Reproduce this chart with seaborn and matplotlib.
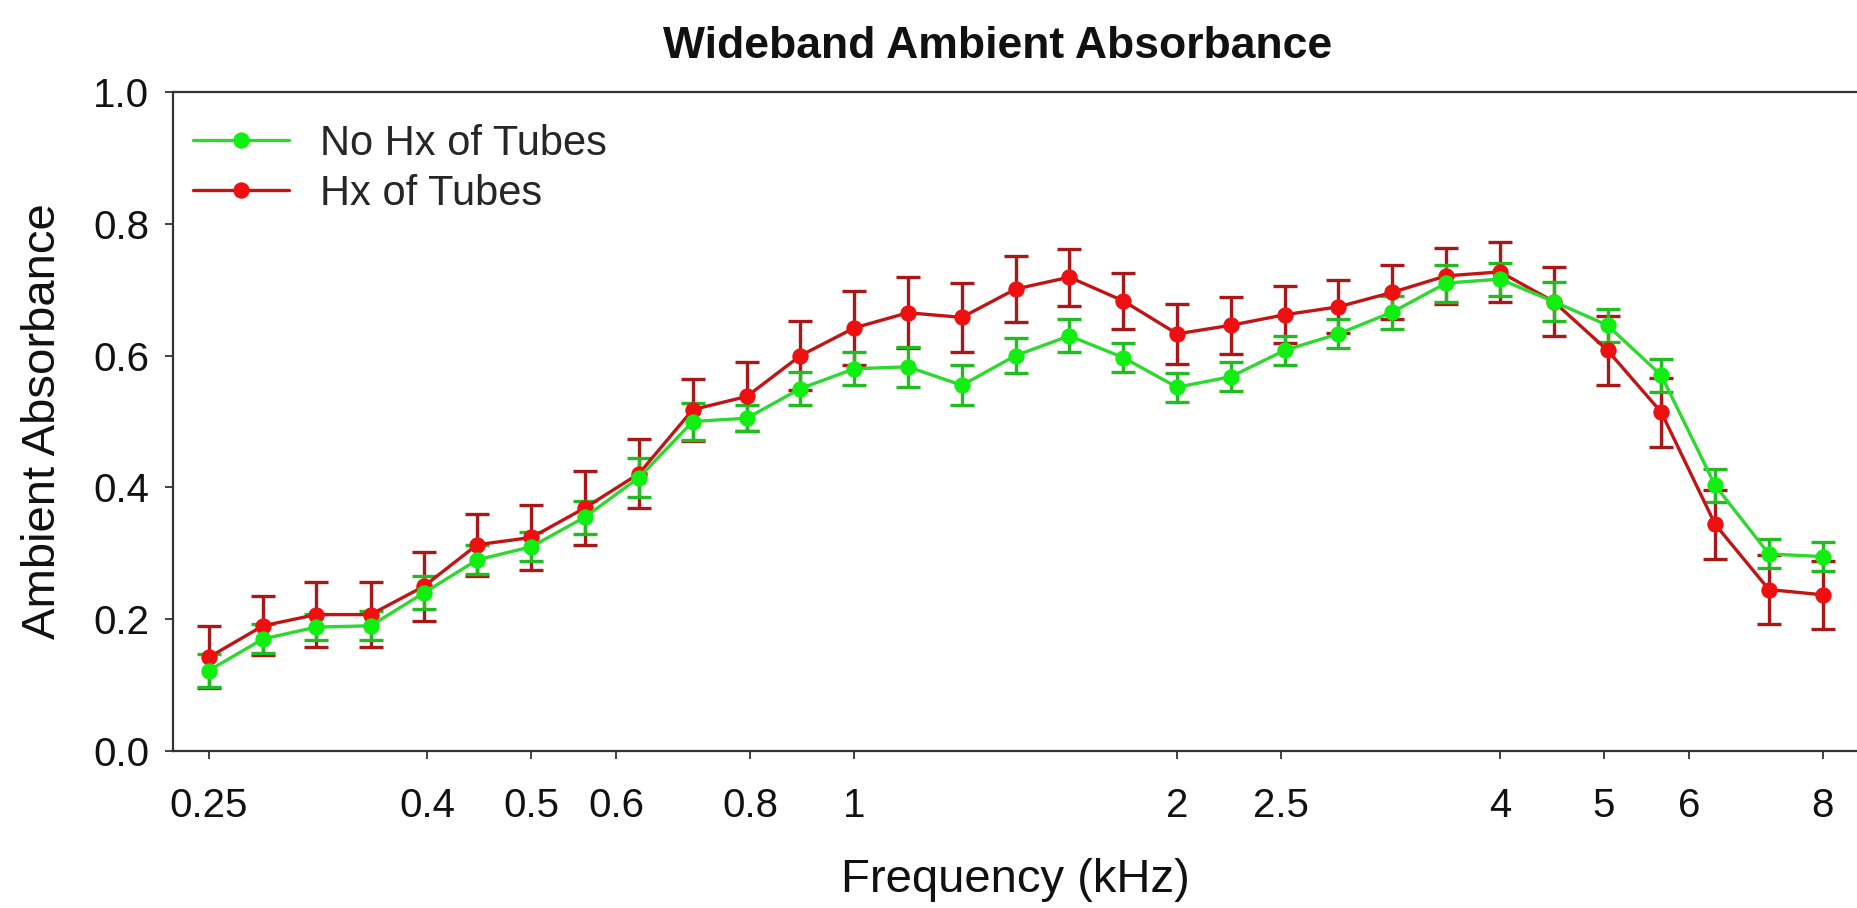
import numpy as np
import pandas as pd
import matplotlib
matplotlib.use("Agg")
import matplotlib.pyplot as plt
from matplotlib.ticker import FixedLocator, FixedFormatter, NullLocator
import seaborn as sns

# ---- data ----
freq_khz = [0.25, 0.281, 0.315, 0.354, 0.397, 0.445, 0.5, 0.561, 0.63, 0.707,
            0.794, 0.891, 1.0, 1.122, 1.26, 1.414, 1.587, 1.782, 2.0, 2.245,
            2.52, 2.828, 3.175, 3.564, 4.0, 4.49, 5.04, 5.657, 6.35, 7.127, 8.0]

no_hx_mean = [0.122, 0.170, 0.188, 0.190, 0.240, 0.290, 0.310, 0.355, 0.415, 0.500,
              0.505, 0.550, 0.580, 0.583, 0.555, 0.600, 0.630, 0.597, 0.552, 0.568,
              0.608, 0.633, 0.666, 0.710, 0.716, 0.682, 0.646, 0.570, 0.403, 0.299, 0.295]
no_hx_err = [0.025, 0.022, 0.020, 0.022, 0.025, 0.022, 0.022, 0.025, 0.030, 0.028,
             0.020, 0.025, 0.025, 0.030, 0.030, 0.027, 0.025, 0.022, 0.022, 0.022,
             0.022, 0.022, 0.025, 0.028, 0.025, 0.030, 0.025, 0.025, 0.025, 0.022, 0.022]

hx_mean = [0.142, 0.190, 0.207, 0.207, 0.250, 0.313, 0.324, 0.369, 0.421, 0.518,
           0.538, 0.600, 0.642, 0.665, 0.658, 0.701, 0.719, 0.683, 0.633, 0.646,
           0.662, 0.674, 0.696, 0.721, 0.727, 0.682, 0.608, 0.514, 0.344, 0.245, 0.237]
hx_err = [0.047, 0.045, 0.049, 0.049, 0.052, 0.047, 0.050, 0.056, 0.052, 0.047,
          0.052, 0.052, 0.056, 0.054, 0.052, 0.050, 0.043, 0.043, 0.045, 0.043,
          0.043, 0.040, 0.041, 0.043, 0.045, 0.052, 0.052, 0.052, 0.052, 0.052, 0.052]

series_names = ["No Hx of Tubes", "Hx of Tubes"]
x_ticks = [0.25, 0.4, 0.5, 0.6, 0.8, 1, 2, 2.5, 4, 5, 6, 8]
x_tick_labels = ["0.25", "0.4", "0.5", "0.6", "0.8", "1", "2", "2.5", "4", "5", "6", "8"]
y_ticks = [0.0, 0.2, 0.4, 0.6, 0.8, 1.0]

df = pd.DataFrame({
    "freq": freq_khz * 2,
    "absorbance": no_hx_mean + hx_mean,
    "err": no_hx_err + hx_err,
    "group": [series_names[0]] * len(freq_khz) + [series_names[1]] * len(freq_khz),
})

sns.set_theme(style="white")
plt.rcParams["font.family"] = ["Liberation Sans", "DejaVu Sans"]

line_colors = {series_names[0]: "#2ed82e", series_names[1]: "#c01515"}
marker_colors = {series_names[0]: "#11ee11", series_names[1]: "#ee1010"}
err_colors = {series_names[0]: "#22bb22", series_names[1]: "#a81818"}

fig = plt.figure(figsize=(18.58, 9.08), dpi=100)
ax = fig.add_axes([173 / 1858, 1 - 751 / 908, 1 - 173 / 1858, (751 - 92) / 908])
ax.set_xscale("log")

for name in [series_names[1], series_names[0]]:
    sub = df[df["group"] == name]
    ax.errorbar(sub["freq"], sub["absorbance"], yerr=sub["err"], fmt="none",
                ecolor=err_colors[name], elinewidth=2.4, capsize=8.5, capthick=2.4, zorder=2)
    sns.lineplot(data=sub, x="freq", y="absorbance", ax=ax, color=line_colors[name],
                 linewidth=2.4, marker="o", markersize=11,
                 markerfacecolor=marker_colors[name], markeredgecolor=marker_colors[name],
                 label=name, zorder=3, errorbar=None)

ax.set_xlim(0.2316, 8.63)
ax.set_ylim(0, 1.0)
ax.xaxis.set_major_locator(FixedLocator(x_ticks))
ax.xaxis.set_major_formatter(FixedFormatter(x_tick_labels))
ax.xaxis.set_minor_locator(NullLocator())
ax.set_yticks(y_ticks)
ax.set_yticklabels([f"{v:.1f}" for v in y_ticks])

for s in ["left", "bottom", "top"]:
    ax.spines[s].set_visible(True)
    ax.spines[s].set_color("#333333")
    ax.spines[s].set_linewidth(1.6)
ax.spines["right"].set_visible(False)

ax.tick_params(axis="both", which="major", direction="out", length=6, width=1.3,
               color="#333333", labelsize=29, labelcolor="#111111")
ax.tick_params(axis="x", pad=20, top=False)
ax.tick_params(axis="y", pad=11, right=False)
ax.tick_params(left=True, bottom=True)

ax.set_xlabel("Frequency (kHz)", fontsize=34, color="#111111", labelpad=24)
ax.set_ylabel("Ambient Absorbance", fontsize=34, color="#111111", labelpad=20)

fig.text(998 / 1858, 1 - 46 / 908, "Wideband Ambient Absorbance", ha="center", va="center",
         fontsize=32, fontweight="bold", color="#111111")

h, l = ax.get_legend_handles_labels()
order = [l.index(series_names[0]), l.index(series_names[1])]
ax.legend([h[i] for i in order], [l[i] for i in order], loc="upper left",
          bbox_to_anchor=(0.012, 0.952), frameon=False, fontsize=30,
          handlelength=2.3, handletextpad=0.75, labelspacing=0.25, borderpad=0,
          borderaxespad=0)

fig.savefig("out.png", dpi=100)
